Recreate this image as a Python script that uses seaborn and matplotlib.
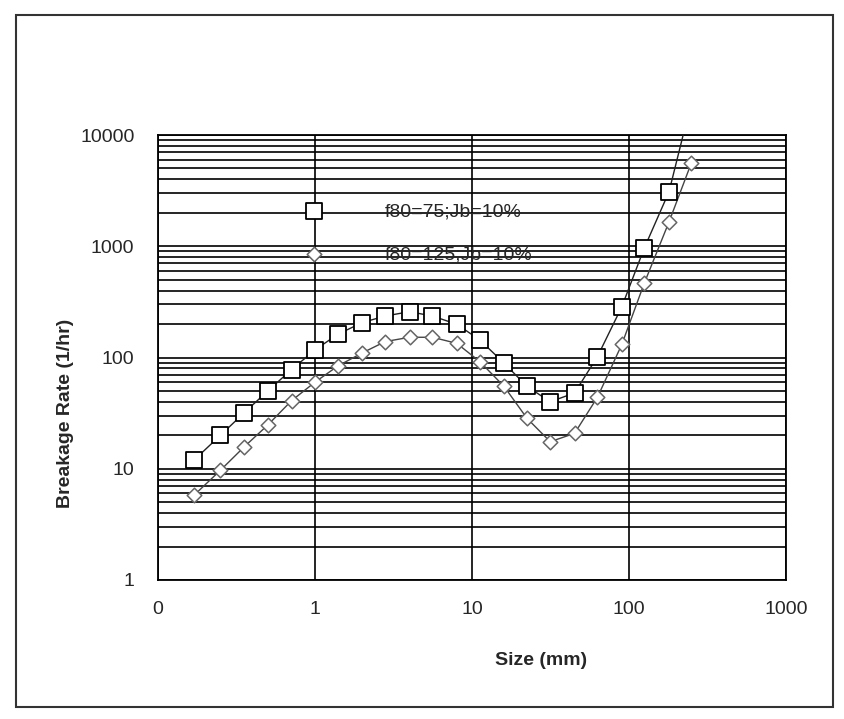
import numpy as np
import pandas as pd
import matplotlib
matplotlib.use("Agg")
import matplotlib.pyplot as plt
import seaborn as sns
from matplotlib.patches import Rectangle
from matplotlib.ticker import LogLocator, NullFormatter

# --- data ---
sizes_75 = [0.17, 0.25, 0.355, 0.5, 0.71, 1.0, 1.4, 2.0, 2.8, 4.0, 5.6, 8.0,
            11.2, 16.0, 22.4, 31.5, 45.0, 63.0, 90.0, 125.0, 180.0]
rate_75 = [12, 20, 32, 50, 78, 117, 162, 206, 236, 258, 236, 199,
           144, 89, 55, 40, 48, 102, 286, 960, 3100]

sizes_125 = [0.17, 0.25, 0.355, 0.5, 0.71, 1.0, 1.4, 2.0, 2.8, 4.0, 5.6, 8.0,
             11.2, 16.0, 22.4, 31.5, 45.0, 63.0, 90.0, 125.0, 180.0, 250.0]
rate_125 = [5.8, 9.7, 15.8, 24.7, 41, 60, 84, 110, 139, 152, 152, 134,
            92, 55, 28.4, 17.5, 20.8, 44, 131, 464, 1660, 5640]

# fitted curve for f80=75 runs on past the last point, off the top
fit_tail_size = [225.0]
fit_tail_rate = [11000]

label_75 = "f80=75;Jb=10%"
label_125 = "f80=125;Jb=10%"

x_ticks = [0.1, 1, 10, 100, 1000]
x_tick_labels = ["0", "1", "10", "100", "1000"]
y_ticks = [1, 10, 100, 1000, 10000]
y_tick_labels = ["1", "10", "100", "1000", "10000"]

df75 = pd.DataFrame({"size": sizes_75, "rate": rate_75})
df125 = pd.DataFrame({"size": sizes_125, "rate": rate_125})
fit75 = pd.DataFrame({"size": sizes_75 + fit_tail_size, "rate": rate_75 + fit_tail_rate})

sns.set_style("white")
plt.rcParams["font.family"] = ["Liberation Sans", "DejaVu Sans"]

fig = plt.figure(figsize=(8.44, 7.19), dpi=100)
ax = fig.add_axes([158 / 844, 1 - 580 / 719, 628 / 844, 445 / 719])

ax.set_xscale("log")
ax.set_yscale("log")

# fitted curves
sns.lineplot(data=fit75, x="size", y="rate", ax=ax, color="#222222", lw=1.0,
             sort=False, estimator=None, legend=False, zorder=3)
sns.lineplot(data=df125, x="size", y="rate", ax=ax, color="#444444", lw=1.0,
             sort=False, estimator=None, legend=False, zorder=3)

# measured points
sns.scatterplot(data=df75, x="size", y="rate", ax=ax, marker="s", s=120,
                color="white", edgecolor="black", linewidth=1.3,
                label=label_75, zorder=4)
sns.scatterplot(data=df125, x="size", y="rate", ax=ax, marker="D", s=55,
                color="white", edgecolor="#666666", linewidth=1.1,
                label=label_125, zorder=4)

ax.set_xlim(0.1, 1000)
ax.set_ylim(1, 10000)

ax.set_xticks(x_ticks)
ax.set_xticklabels(x_tick_labels)
ax.set_yticks(y_ticks)
ax.set_yticklabels(y_tick_labels)
ax.xaxis.set_minor_locator(plt.NullLocator())
ax.yaxis.set_minor_locator(LogLocator(base=10, subs=np.arange(2, 10)))
ax.yaxis.set_minor_formatter(NullFormatter())

ax.grid(True, which="major", axis="both", color="black", lw=1.2)
ax.grid(True, which="minor", axis="y", color="black", lw=1.2)
ax.set_axisbelow(True)
ax.tick_params(axis="both", which="both", length=0, labelsize=14)
ax.tick_params(axis="x", pad=15)
ax.tick_params(axis="y", pad=17)
for sp in ax.spines.values():
    sp.set_color("black")
    sp.set_linewidth(1.3)

ax.set_xlabel("Size (mm)", fontsize=14, fontweight="bold", va="center")
ax.xaxis.set_label_coords(0.61, -0.18)
ax.set_ylabel("Breakage Rate (1/hr)", fontsize=14, fontweight="bold", va="center")
ax.yaxis.set_label_coords(-0.148, 0.375)

ax.legend(loc="upper left", bbox_to_anchor=(0.2175, 0.848), frameon=False,
          fontsize=14, handlelength=2, handletextpad=2.66, labelspacing=1.32,
          borderpad=0, borderaxespad=0)

# outer chart-area border
fig.patches.append(Rectangle((16 / 844, 1 - 707 / 719), 817 / 844, 692 / 719,
                             transform=fig.transFigure, fill=False,
                             edgecolor="#333333", lw=1.5))

fig.savefig("out.png", dpi=100)
